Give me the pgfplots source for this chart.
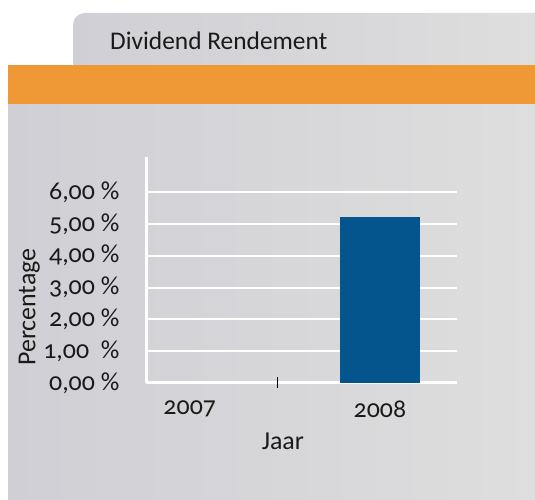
\documentclass[border=0pt]{standalone}
\usepackage{fontspec}
\setmainfont{Carlito}[Numbers=OldStyle]
\usepackage{pgfplots}
\pgfplotsset{compat=1.18}
\definecolor{orangeband}{HTML}{EF9836}
\definecolor{barblue}{HTML}{04548E}
\definecolor{bgL}{HTML}{CFCFD5}
\definecolor{bgR}{HTML}{DEDEDE}
\definecolor{txt}{HTML}{1A1A1A}
\begin{document}
\begin{tikzpicture}[x=1bp,y=1bp]
\fill[white] (0,0) rectangle (535,500);
\shade[left color=bgL, right color=bgR] (73,435) -- (73,475) arc(180:90:12) -- (535,487) -- (535,435) -- cycle;
\shade[left color=bgL, right color=bgR] (8,0) rectangle (535,396);
\fill[orangeband] (8,396) rectangle (535,435);
\node[anchor=west, text=txt, font=\fontsize{25.5}{28}\selectfont, inner sep=0] at (110,459) {Dividend Rendement};
\begin{axis}[
  at={(146bp,117bp)}, anchor=south west,
  scale only axis, width=311bp, height=226bp,
  xmin=-0.23, xmax=1.405, ymin=0, ymax=7.1,
  axis lines=left,
  axis line style={-, white, line width=3bp},
  ymajorgrids, grid style={white, line width=2bp},
  ytick={0,1,2,3,4,5,6},
  yticklabels={{0,00 \%},{1,00\ \ \%},{2,00 \%},{3,00 \%},{4,00 \%},{5,00 \%},{6,00 \%}},
  xtick={0,1}, xticklabels={2007,2008},
  xtick style={draw=none}, ytick style={draw=none},
  extra x ticks={0.463}, extra x tick labels={},
  extra x tick style={xtick style={draw=black, line width=1bp}, major tick length=11bp, tick align=center},
  /pgf/number format/assume math mode=true,
  ticklabel style={text=txt, font=\fontsize{26}{30}\selectfont},
  yticklabel style={anchor=east, xshift=-21bp},
  xticklabel style={anchor=north, yshift=-10bp},
  label style={text=txt, font=\fontsize{26}{30}\selectfont},
  ylabel={Percentage},
  ylabel style={at={(axis description cs:-0.375,0.336)}, anchor=center, rotate=0},
  xlabel={Jaar},
  xlabel style={at={(axis description cs:0.44,-0.257)}, anchor=center},
  ybar, bar width=80bp,
]
\addplot[fill=barblue, draw=none] coordinates {(1,5.2)};
\end{axis}
\end{tikzpicture}
\end{document}
